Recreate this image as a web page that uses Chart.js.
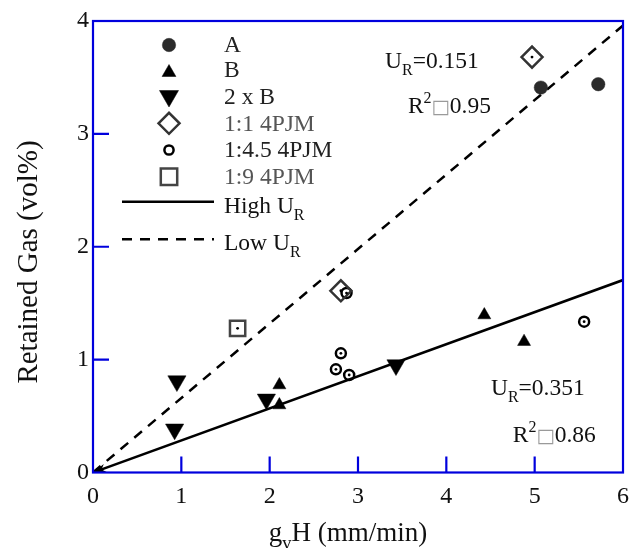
<!DOCTYPE html>
<html><head><meta charset="utf-8">
<script src="https://cdn.jsdelivr.net/npm/chart.js@4.4.0/dist/chart.umd.min.js"></script>
<style>html,body{margin:0;padding:0;background:#fff;}</style>
</head><body>
<canvas id="c" width="639" height="548"></canvas>
<script>
// ---------- data ----------
const xTicks = [0, 1, 2, 3, 4, 5, 6];
const yTicks = [0, 1, 2, 3, 4];
const seriesNames = ['A', 'B', '2 x B', '1:1 4PJM', '1:4.5 4PJM', '1:9 4PJM'];
const seriesA   = [{x:5.07,y:3.41},{x:5.72,y:3.44}];
const seriesB   = [{x:2.11,y:0.775},{x:2.11,y:0.598},{x:4.43,y:1.395},{x:4.88,y:1.159}];
const series2xB = [{x:0.95,y:0.81},{x:0.924,y:0.383},{x:1.963,y:0.648},{x:3.43,y:0.952}];
const series11  = [{x:4.97,y:3.68},{x:2.806,y:1.61}];
const series145 = [{x:2.87,y:1.59},{x:2.806,y:1.056},{x:2.75,y:0.914},{x:2.9,y:0.864},{x:5.56,y:1.336}];
const series19  = [{x:1.637,y:1.277}];
const highLine  = [{x:0,y:0},{x:6,y:1.705}];
const lowLine   = [{x:0,y:0},{x:6,y:3.96}];
const fitNotes  = [
  {x:3.306, y:3.586, parts:[['U'],['R','sub'],['=0.151']]},
  {x:3.565, y:3.188, parts:[['R'],['2','sup'],['\u25A1','box'],['0.95']]},
  {x:4.505, y:0.687, parts:[['U'],['R','sub'],['=0.351']]},
  {x:4.753, y:0.273, parts:[['R'],['2','sup'],['\u25A1','box'],['0.86']]}
];

const SERIF = '"Liberation Serif", "Times New Roman", serif';
const BLUE = '#0000dd';

function drawRich(ctx, x, y, parts, size, color, align) {
  ctx.save();
  ctx.textBaseline = 'alphabetic';
  ctx.textAlign = 'left';
  const segs = parts.map(p => {
    const m = p[1];
    let sz = size, fam = SERIF, dy = 0, col = color;
    if (m === 'sub') { sz = size * 0.68; dy = size * 0.3; }
    if (m === 'sup') { sz = size * 0.68; dy = -size * 0.4; }
    if (m === 'box') { sz = size * 0.82; fam = '"DejaVu Sans", sans-serif'; col = '#9a9a9a'; dy = size * 0.02; }
    ctx.font = sz + 'px ' + fam;
    return {t: p[0], sz, fam, dy, col, w: ctx.measureText(p[0]).width};
  });
  const total = segs.reduce((a, s) => a + s.w, 0);
  let cx = align === 'center' ? x - total / 2 : x;
  for (const s of segs) {
    ctx.font = s.sz + 'px ' + s.fam;
    ctx.fillStyle = s.col;
    ctx.fillText(s.t, cx, y + s.dy);
    cx += s.w;
  }
  ctx.restore();
}

function marker(ctx, style, x, y, r, fill, stroke, lw, rot) {
  ctx.save();
  ctx.fillStyle = fill || 'rgba(0,0,0,0)';
  ctx.strokeStyle = stroke || 'rgba(0,0,0,0)';
  ctx.lineWidth = lw || 0;
  Chart.helpers.drawPoint(ctx, {pointStyle: style, rotation: rot || 0, radius: r, borderWidth: lw || 0}, x, y);
  ctx.restore();
}

const decor = {
  id: 'decor',
  afterDatasetsDraw(chart) {
    const ctx = chart.ctx;
    const xs = chart.scales.x, ys = chart.scales.y;
    // arrowhead at the origin end of the high-UR line
    const x0 = xs.getPixelForValue(highLine[0].x), y0 = ys.getPixelForValue(highLine[0].y);
    const x1 = xs.getPixelForValue(highLine[1].x), y1 = ys.getPixelForValue(highLine[1].y);
    const ang = Math.atan2(y1 - y0, x1 - x0);
    const L = 13, W = 4.2;
    ctx.save();
    ctx.fillStyle = '#000';
    ctx.beginPath();
    ctx.moveTo(x0, y0);
    ctx.lineTo(x0 + L * Math.cos(ang) - W * Math.sin(ang), y0 + L * Math.sin(ang) + W * Math.cos(ang));
    ctx.lineTo(x0 + L * 0.7 * Math.cos(ang), y0 + L * 0.7 * Math.sin(ang));
    ctx.lineTo(x0 + L * Math.cos(ang) + W * Math.sin(ang), y0 + L * Math.sin(ang) - W * Math.cos(ang));
    ctx.closePath();
    ctx.fill();
    ctx.restore();
  },
  afterDraw(chart) {
    const ctx = chart.ctx, a = chart.chartArea;
    const xs = chart.scales.x, ys = chart.scales.y;
    ctx.save();
    // frame
    ctx.strokeStyle = BLUE; ctx.lineWidth = 2.2;
    ctx.strokeRect(a.left, a.top, a.right - a.left, a.bottom - a.top);
    // inward ticks
    ctx.beginPath();
    xTicks.slice(1, -1).forEach(v => { const px = xs.getPixelForValue(v); ctx.moveTo(px, a.bottom); ctx.lineTo(px, a.bottom - 16); });
    yTicks.slice(1, -1).forEach(v => { const py = ys.getPixelForValue(v); ctx.moveTo(a.left, py); ctx.lineTo(a.left + 16, py); });
    ctx.stroke();
    ctx.restore();

    // axis titles
    drawRich(ctx, (a.left + a.right) / 2 - 10, 541, [['g'], ['v', 'sub'], ['H (mm/min)']], 27, '#111', 'center');
    ctx.save();
    ctx.translate(37, 262);
    ctx.rotate(-Math.PI / 2);
    drawRich(ctx, 0, 0, [['Retained Gas (vol%)']], 29, '#111', 'center');
    ctx.restore();

    // fit annotations
    fitNotes.forEach(n => drawRich(ctx, xs.getPixelForValue(n.x), ys.getPixelForValue(n.y), n.parts, 23.5, '#111', 'left'));

    // legend
    const mx = 169, tx = 224;
    const rows = [
      {y: 45,  b: 51.7,  c: '#222', draw: (y) => marker(ctx, 'circle', mx, y, 6.7, '#2b2b2b', '#2b2b2b', 0.5)},
      {y: 71.5,b: 77.3,  c: '#222', draw: (y) => marker(ctx, 'triangle', mx, y + 1, 8, '#000', '#000', 0.5)},
      {y: 96,  b: 104,   c: '#222', draw: (y) => marker(ctx, 'triangle', mx, y, 11, '#000', '#000', 0.5, 180)},
      {y: 123.3,b: 130.7,c: '#555', draw: (y) => marker(ctx, 'rectRot', mx, y, 10.5, null, '#333', 2.5)},
      {y: 150, b: 157.3, c: '#222', draw: (y) => marker(ctx, 'circle', mx, y, 4.6, '#fff', '#000', 2.5)},
      {y: 176.7,b: 184,  c: '#555', draw: (y) => marker(ctx, 'rect', mx, y, 11.6, null, '#444', 2.5)}
    ];
    rows.forEach((r, i) => { r.draw(r.y); drawRich(ctx, tx, r.b, [[seriesNames[i]]], 23.5, r.c, 'left'); });
    ctx.save();
    ctx.strokeStyle = '#000'; ctx.lineWidth = 2.5;
    ctx.beginPath(); ctx.moveTo(122, 201.7); ctx.lineTo(214, 201.7); ctx.stroke();
    ctx.setLineDash([10, 8]);
    ctx.beginPath(); ctx.moveTo(122, 239.3); ctx.lineTo(214, 239.3); ctx.stroke();
    ctx.restore();
    drawRich(ctx, tx, 213, [['High U'], ['R', 'sub']], 23.5, '#111', 'left');
    drawRich(ctx, tx, 250, [['Low U'], ['R', 'sub']], 23.5, '#111', 'left');
  }
};

const dot = (data) => ({data, pointStyle: 'circle', pointRadius: 1.4, pointBackgroundColor: '#000', pointBorderWidth: 0, order: 0});

new Chart(document.getElementById('c'), {
  type: 'scatter',
  data: {
    datasets: [
      {label: 'High UR', data: highLine, showLine: true, borderColor: '#000', borderWidth: 2.5, pointRadius: 0, order: 10},
      {label: 'Low UR', data: lowLine, showLine: true, borderColor: '#000', borderWidth: 2.5, borderDash: [10, 8], pointRadius: 0, order: 10},
      {label: seriesNames[0], data: seriesA, pointStyle: 'circle', pointRadius: 6.7, pointBackgroundColor: '#2b2b2b', pointBorderColor: '#2b2b2b', pointBorderWidth: 0.5, order: 1},
      {label: seriesNames[1], data: seriesB, pointStyle: 'triangle', pointRadius: 7.5, pointBackgroundColor: '#000', pointBorderColor: '#000', pointBorderWidth: 0.5, order: 1},
      {label: seriesNames[2], data: series2xB, pointStyle: 'triangle', pointRotation: 180, pointRadius: 10.5, pointBackgroundColor: '#000', pointBorderColor: '#000', pointBorderWidth: 0.5, order: 1},
      {label: seriesNames[3], data: series11, pointStyle: 'rectRot', pointRadius: 10.5, pointBackgroundColor: 'rgba(255,255,255,0)', pointBorderColor: '#333', pointBorderWidth: 2.5, order: 1},
      {label: seriesNames[4], data: series145, pointStyle: 'circle', pointRadius: 5, pointBackgroundColor: 'rgba(255,255,255,0)', pointBorderColor: '#000', pointBorderWidth: 2.5, order: 1},
      {label: seriesNames[5], data: series19, pointStyle: 'rect', pointRadius: 10.8, pointBackgroundColor: 'rgba(255,255,255,0)', pointBorderColor: '#444', pointBorderWidth: 2.5, order: 1},
      dot(series11), dot(series145), dot(series19)
    ]
  },
  options: {
    responsive: false,
    animation: false,
    devicePixelRatio: 1,
    layout: {padding: {left: 0, right: 7, top: 21, bottom: 0}},
    plugins: {legend: {display: false}, tooltip: {enabled: false}},
    scales: {
      x: {
        type: 'linear', min: 0, max: 6,
        afterBuildTicks: s => { s.ticks = xTicks.map(v => ({value: v})); },
        afterFit: s => { s.height = 75.5; },
        grid: {display: false, drawTicks: false}, border: {display: false},
        ticks: {font: {family: SERIF, size: 24}, color: '#111', padding: 10, maxRotation: 0}
      },
      y: {
        type: 'linear', min: 0, max: 4,
        afterBuildTicks: s => { s.ticks = yTicks.map(v => ({value: v})); },
        afterFit: s => { s.width = 93; },
        grid: {display: false, drawTicks: false}, border: {display: false},
        ticks: {font: {family: SERIF, size: 24}, color: '#111', padding: 4}
      }
    }
  },
  plugins: [decor]
});
</script>
</body></html>
